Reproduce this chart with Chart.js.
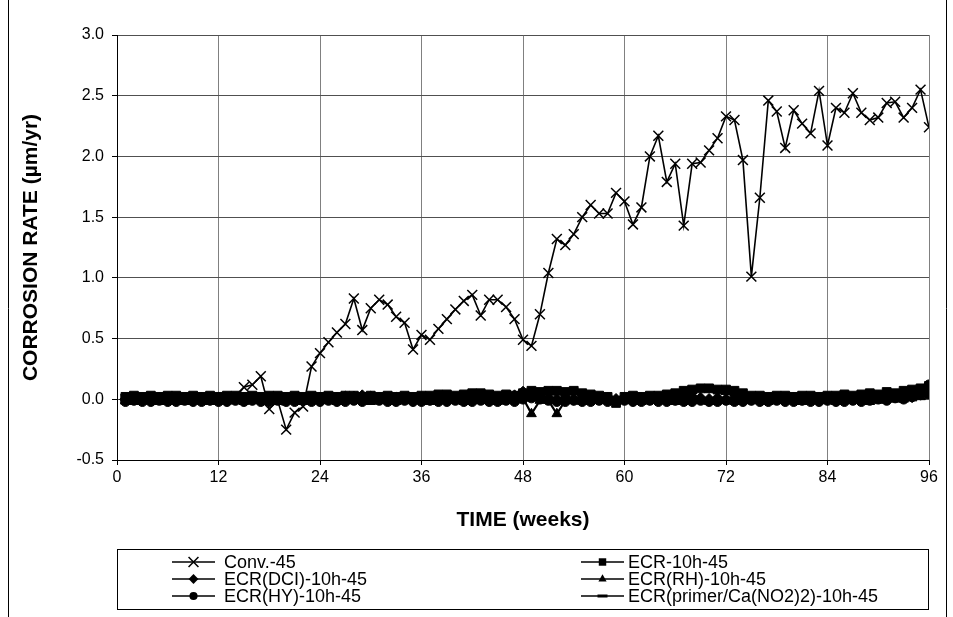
<!DOCTYPE html>
<html>
<head>
<meta charset="utf-8">
<script src="https://cdn.jsdelivr.net/npm/chart.js@4.4.1/dist/chart.umd.min.js"></script>
<style>
  html, body { margin: 0; padding: 0; background: #fff; }
  canvas { display: block; }
</style>
</head>
<body>
<canvas id="corrChart" width="953" height="617"></canvas>
<script>
// Data (weeks 1..96)
const weeks = [1,2,3,4,5,6,7,8,9,10,11,12,13,14,15,16,17,18,19,20,21,22,23,24,25,26,27,28,29,30,
  31,32,33,34,35,36,37,38,39,40,41,42,43,44,45,46,47,48,49,50,51,52,53,54,55,56,57,58,59,60,
  61,62,63,64,65,66,67,68,69,70,71,72,73,74,75,76,77,78,79,80,81,82,83,84,85,86,87,88,89,90,
  91,92,93,94,95,96];

const conv45 = [0.00,0.01,0.00,0.00,0.01,0.00,0.00,0.01,0.00,0.00,
  0.01,0.00,0.00,0.01,0.10,0.12,0.19,-0.08,-0.01,-0.25,
  -0.11,-0.06,0.27,0.38,0.47,0.55,0.62,0.83,0.57,0.75,
  0.82,0.78,0.68,0.63,0.41,0.53,0.49,0.58,0.66,0.74,
  0.81,0.86,0.69,0.82,0.82,0.76,0.66,0.49,0.44,0.70,
  1.04,1.32,1.27,1.36,1.50,1.60,1.53,1.53,1.70,1.63,
  1.44,1.58,2.00,2.17,1.79,1.94,1.43,1.94,1.95,2.05,
  2.15,2.33,2.30,1.97,1.01,1.66,2.46,2.37,2.07,2.38,
  2.27,2.19,2.54,2.09,2.40,2.36,2.52,2.36,2.30,2.32,
  2.44,2.45,2.32,2.40,2.55,2.24];

const ecr10h = [0.02,0.03,0.02,0.03,0.02,0.03,0.03,0.02,0.03,0.02,
  0.03,0.02,0.03,0.03,0.02,0.03,0.02,0.03,0.03,0.02,
  0.03,0.02,0.03,0.02,0.03,0.02,0.03,0.03,0.02,0.03,
  0.02,0.03,0.02,0.03,0.02,0.03,0.03,0.04,0.04,0.03,
  0.04,0.05,0.05,0.04,0.03,0.04,0.03,0.05,0.07,0.06,
  0.07,0.07,0.06,0.07,0.05,0.04,0.03,0.02,-0.03,0.02,
  0.03,0.02,0.03,0.03,0.04,0.05,0.07,0.08,0.09,0.09,
  0.08,0.08,0.07,0.05,0.03,0.03,0.02,0.03,0.03,0.02,
  0.03,0.03,0.02,0.03,0.03,0.04,0.03,0.04,0.05,0.04,
  0.06,0.05,0.07,0.08,0.09,0.11];

const ecrDcl = [0.00,0.01,0.00,0.00,0.01,0.00,0.01,0.00,0.00,0.01,
  0.00,0.01,0.00,0.00,0.01,0.00,0.00,0.01,0.00,0.00,
  0.01,0.00,0.00,0.01,0.00,0.01,0.02,0.02,0.03,0.02,
  0.01,0.00,0.01,0.00,0.00,0.01,0.00,0.01,0.00,0.01,
  0.00,0.01,0.01,0.00,0.01,0.02,0.03,0.06,0.04,0.02,
  0.01,0.00,0.01,0.00,0.01,0.00,0.00,0.01,0.00,0.01,
  0.00,0.01,0.00,0.01,0.00,0.00,0.01,0.02,0.01,0.00,
  0.01,0.00,0.01,0.00,0.00,0.01,0.00,0.01,0.00,0.01,
  0.00,0.01,0.00,0.00,0.01,0.00,0.01,0.00,0.01,0.02,
  0.01,0.02,0.03,0.02,0.04,0.05];

const ecrRh = [-0.01,-0.02,-0.01,-0.01,-0.02,-0.01,-0.01,-0.02,-0.01,-0.01,
  -0.02,-0.01,-0.01,-0.01,-0.02,-0.01,-0.01,-0.01,-0.02,-0.01,
  -0.01,-0.02,-0.01,-0.01,-0.01,-0.02,-0.01,-0.01,-0.01,-0.02,
  -0.01,-0.01,-0.02,-0.01,-0.01,-0.01,-0.02,-0.01,-0.01,-0.01,
  -0.02,-0.01,-0.01,-0.01,-0.02,-0.01,-0.01,0.01,-0.12,-0.01,
  -0.01,-0.12,-0.01,-0.01,-0.02,-0.01,-0.01,-0.01,-0.02,-0.01,
  -0.01,-0.02,-0.01,-0.01,-0.01,-0.02,-0.01,-0.01,-0.01,-0.02,
  -0.01,-0.01,-0.02,-0.01,-0.01,-0.01,-0.02,-0.01,-0.01,-0.01,
  -0.02,-0.01,-0.01,-0.01,-0.02,-0.01,-0.01,-0.01,-0.02,-0.01,
  0.00,0.00,0.00,0.01,0.02,0.03];

const ecrHy = [-0.02,-0.01,-0.02,-0.02,-0.01,-0.02,-0.02,-0.01,-0.02,-0.02,
  -0.01,-0.02,-0.02,-0.01,-0.02,-0.01,-0.02,-0.02,-0.01,-0.02,
  -0.02,-0.01,-0.02,-0.02,-0.01,-0.02,-0.02,-0.01,-0.02,0.00,
  -0.01,-0.02,-0.02,-0.01,-0.02,-0.02,-0.01,-0.02,-0.02,-0.01,
  -0.02,-0.02,-0.01,-0.02,-0.02,-0.01,-0.02,0.00,0.01,0.00,
  -0.01,-0.02,-0.02,-0.01,-0.02,-0.02,-0.01,-0.02,-0.02,-0.01,
  -0.02,-0.02,-0.01,-0.02,-0.02,-0.01,-0.02,-0.02,-0.01,-0.02,
  -0.02,-0.01,-0.02,-0.02,-0.01,-0.02,-0.02,-0.01,-0.02,-0.02,
  -0.01,-0.02,-0.02,-0.01,-0.02,-0.02,-0.01,-0.02,-0.01,0.00,
  -0.01,0.01,0.00,0.02,0.05,0.12];

const ecrPrimer = [0.02,0.01,0.02,0.02,0.01,0.02,0.02,0.01,0.02,0.02,
  0.01,0.02,0.02,0.01,0.02,0.02,0.01,0.02,0.02,0.01,
  0.02,0.02,0.01,0.02,0.02,0.01,0.02,0.02,0.01,0.02,
  0.02,0.01,0.02,0.02,0.01,0.02,0.02,0.01,0.02,0.02,
  0.01,0.02,0.03,0.02,0.03,0.02,0.03,0.04,0.06,0.05,
  0.07,0.06,0.05,0.07,0.04,0.02,0.01,0.02,0.01,0.02,
  0.02,0.01,0.02,0.02,0.03,0.02,0.04,0.06,0.08,0.07,
  0.07,0.05,0.04,0.02,0.01,0.02,0.02,0.01,0.02,0.02,
  0.01,0.02,0.02,0.01,0.02,0.02,0.03,0.02,0.03,0.04,
  0.03,0.04,0.05,0.04,0.07,0.09];

const seriesNames = ['Conv.-45', 'ECR-10h-45', 'ECR(DCI)-10h-45', 'ECR(RH)-10h-45',
  'ECR(HY)-10h-45', 'ECR(primer/Ca(NO2)2)-10h-45'];
const xTicks = [0, 12, 24, 36, 48, 60, 72, 84, 96];
const yTicks = [-0.5, 0.0, 0.5, 1.0, 1.5, 2.0, 2.5, 3.0];

const FONT = '"Liberation Sans", Arial, sans-serif';

// marker look per series
const markers = [
  { style: 'crossRot', radius: 7, width: 1.5, line: 1.6 },
  { style: 'rect', radius: 6.2, width: 1, line: 2.2 },
  { style: 'rectRot', radius: 5.8, width: 1, line: 2.2 },
  { style: 'triangle', radius: 5.6, width: 1, line: 2.2 },
  { style: 'circle', radius: 4.8, width: 1, line: 2.2 },
  { style: 'line', radius: 5, width: 3.5, line: 2.2 }
];

function toPoints(vals) {
  return vals.map((v, i) => ({ x: weeks[i], y: v }));
}

const allValues = [conv45, ecr10h, ecrDcl, ecrRh, ecrHy, ecrPrimer];
const datasets = allValues.map((vals, i) => ({
  label: seriesNames[i],
  data: toPoints(vals),
  borderColor: '#000',
  backgroundColor: '#000',
  borderWidth: markers[i].line,
  pointStyle: markers[i].style,
  pointRadius: markers[i].radius,
  pointBorderWidth: markers[i].width,
  pointBackgroundColor: '#000',
  pointBorderColor: '#000',
  tension: 0
}));

// simple marker drawing for the legend box
function drawMarker(ctx, m, x, y) {
  ctx.save();
  ctx.fillStyle = '#000';
  ctx.strokeStyle = '#000';
  ctx.lineWidth = Math.min(m.width, 3);
  ctx.beginPath();
  const r = m.radius * 0.85;
  if (m.style === 'crossRot') {
    const o = m.radius * Math.SQRT1_2;
    ctx.moveTo(x - o, y - o); ctx.lineTo(x + o, y + o);
    ctx.moveTo(x + o, y - o); ctx.lineTo(x - o, y + o);
    ctx.stroke();
  } else if (m.style === 'rect') {
    const s = r * Math.SQRT1_2;
    ctx.rect(x - s, y - s, 2 * s, 2 * s); ctx.fill();
  } else if (m.style === 'rectRot') {
    ctx.moveTo(x - r, y); ctx.lineTo(x, y - r); ctx.lineTo(x + r, y); ctx.lineTo(x, y + r);
    ctx.closePath(); ctx.fill();
  } else if (m.style === 'triangle') {
    ctx.moveTo(x, y - r);
    ctx.lineTo(x + r * 0.866, y + r / 2);
    ctx.lineTo(x - r * 0.866, y + r / 2);
    ctx.closePath(); ctx.fill();
  } else if (m.style === 'circle') {
    ctx.arc(x, y, r, 0, Math.PI * 2); ctx.fill();
  } else {
    ctx.moveTo(x - m.radius, y); ctx.lineTo(x + m.radius, y); ctx.stroke();
  }
  ctx.restore();
}

const frameAndLegend = {
  id: 'frameAndLegend',
  beforeDraw(chart) {
    const c = chart.ctx;
    c.save();
    c.fillStyle = '#fff';
    c.fillRect(0, 0, chart.width, chart.height);
    c.restore();
  },
  afterDraw(chart) {
    const c = chart.ctx;
    c.save();
    // outer frame sides
    c.strokeStyle = '#000';
    c.lineWidth = 1;
    c.beginPath();
    c.moveTo(8.5, 0); c.lineTo(8.5, chart.height);
    c.moveTo(946.5, 0); c.lineTo(946.5, chart.height);
    c.stroke();
    // legend box
    c.strokeRect(117.5, 549.5, 811, 60);
    const rows = [562, 579, 596];
    const cols = [{ x0: 172, x1: 215, tx: 224 }, { x0: 581, x1: 624, tx: 628 }];
    // entries fill the two columns row by row
    const order = [[0, 0, 0], [1, 1, 0], [2, 0, 1], [3, 1, 1], [4, 0, 2], [5, 1, 2]];
    c.font = '18px ' + FONT;
    c.textBaseline = 'middle';
    c.fillStyle = '#000';
    order.forEach(([i, col, row]) => {
      const cc = cols[col];
      const y = rows[row];
      c.lineWidth = 1.5;
      c.beginPath();
      c.moveTo(cc.x0, y); c.lineTo(cc.x1, y);
      c.stroke();
      drawMarker(c, markers[i], (cc.x0 + cc.x1) / 2, y);
      c.fillText(seriesNames[i], cc.tx, y + 1);
    });
    c.restore();
  }
};

const ctx = document.getElementById('corrChart').getContext('2d');
new Chart(ctx, {
  type: 'line',
  data: { datasets: datasets },
  plugins: [frameAndLegend],
  options: {
    responsive: false,
    animation: false,
    devicePixelRatio: 1,
    layout: { padding: { left: 18, top: 35, right: 24, bottom: 0 } },
    plugins: {
      legend: { display: false },
      tooltip: { enabled: false }
    },
    scales: {
      x: {
        type: 'linear',
        min: 0,
        max: 96,
        afterBuildTicks: s => { s.ticks = xTicks.map(v => ({ value: v })); },
        afterFit: s => { s.height = 157; },
        ticks: {
          color: '#000',
          font: { family: FONT, size: 16 },
          padding: 3,
          maxRotation: 0,
          callback: v => v
        },
        grid: { color: '#808080', tickColor: '#000', tickLength: 5 },
        border: { color: '#000', width: 1 },
        title: {
          display: true,
          text: 'TIME (weeks)',
          color: '#000',
          font: { family: FONT, size: 21, weight: 'bold' },
          padding: { top: 0, bottom: 84 }
        }
      },
      y: {
        min: -0.5,
        max: 3.0,
        afterBuildTicks: s => { s.ticks = yTicks.map(v => ({ value: v })); },
        afterFit: s => { s.width = 99; },
        ticks: {
          color: '#000',
          font: { family: FONT, size: 16 },
          padding: 8,
          callback: v => Number(v).toFixed(1)
        },
        grid: { color: '#505050', tickColor: '#000', tickLength: 5 },
        border: { color: '#000', width: 1 },
        title: {
          display: true,
          text: 'CORROSION RATE (µm/yr)',
          color: '#000',
          font: { family: FONT, size: 21, weight: 'bold' },
          padding: { top: 1, bottom: 0 }
        }
      }
    }
  }
});
</script>
</body>
</html>
